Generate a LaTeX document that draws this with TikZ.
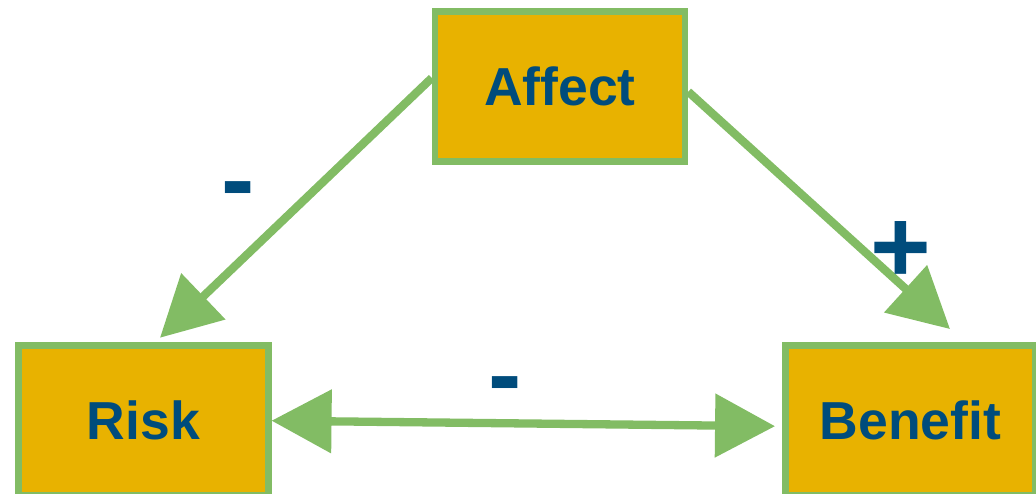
\documentclass[tikz,border=0pt]{standalone}
\usepackage{fontspec}
\setmainfont{Liberation Sans}
\usepackage{tikz}
\usetikzlibrary{arrows.meta}

\definecolor{boxfill}{RGB}{232,178,0}
\definecolor{linkgreen}{RGB}{130,188,100}
\definecolor{txtblue}{RGB}{0,76,124}

\tikzset{
	bigtip/.tip={Triangle[length=60pt,width=62pt]},
	factor/.style={draw=linkgreen,fill=boxfill,line width=6.5pt,
		minimum width=250pt,minimum height=150pt,inner sep=0pt,
		text=txtblue,font=\fontsize{53.5}{60}\selectfont\bfseries},
	link/.style={draw=linkgreen,line width=8.3pt,-bigtip},
	sign/.style={text=txtblue,inner sep=0pt,
		font=\fontsize{100}{100}\selectfont\bfseries}
}

\begin{document}
\begin{tikzpicture}[x=1pt,y=-1pt]
		\useasboundingbox (0,0) rectangle (1036,494);
		% the three boxes
		\node[factor] (affect) at (560,86.7) {Affect};
		\node[factor] (risk) at (143.3,420.7) {Risk};
		\node[factor] (benefit) at (910.3,420.7) {Benefit};
%
		\draw[link] ([yshift=8.7pt]affect.west) -- ([xshift=16.7pt,yshift=4.7pt]risk.north);
		\draw[link] ([yshift=-5pt]affect.east) -- ([xshift=39.7pt,yshift=13.4pt]benefit.north);
		\draw[link,bigtip-bigtip] (risk.east) -- ([xshift=-7pt,yshift=-5.5pt]benefit.west);
%
		\node[sign] (signar) at (238.5,197.5) {-};
		\node[sign,font=\fontsize{104}{104}\selectfont\bfseries] (signab) at (900.5,252) {+};
		\node[sign] (signrb) at (505.5,392.5) {-};
\end{tikzpicture}
\end{document}
